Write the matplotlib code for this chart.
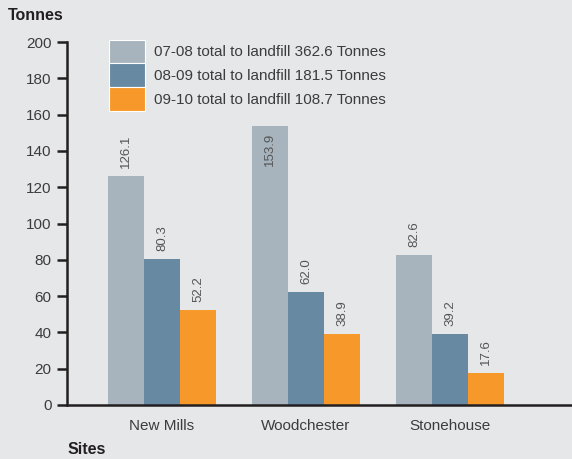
import matplotlib.pyplot as plt
import numpy as np

plt.rcParams['font.family'] = ['Liberation Sans', 'DejaVu Sans']

sites = ["New Mills", "Woodchester", "Stonehouse"]
y0708 = [126.1, 153.9, 82.6]
y0809 = [80.3, 62.0, 39.2]
y0910 = [52.2, 38.9, 17.6]
labels = ["07-08 total to landfill 362.6 Tonnes",
          "08-09 total to landfill 181.5 Tonnes",
          "09-10 total to landfill 108.7 Tonnes"]
colors = ["#a7b4bd", "#6789a1", "#f7992a"]

bg = "#e6e7e9"
dark = "#231f20"
txt = "#3c3c3c"

fig = plt.figure(figsize=(5.72, 4.59), dpi=100, facecolor=bg)
ax = fig.add_axes([67/572, 54/459, 1 - 67/572, 363/459], facecolor=bg)

x = np.arange(len(sites))
w = 0.25
for i, (vals, c, lab) in enumerate(zip([y0708, y0809, y0910], colors, labels)):
    pos = x + (i - 1) * w
    ax.bar(pos, vals, w, color=c, label=lab)
    for p, v in zip(pos, vals):
        if v > 150:
            # tallest bar: label sits inside the top of the bar
            ax.annotate(f"{v:.1f}", (p, v), xytext=(0, -5), textcoords="offset points",
                        rotation=90, ha="center", va="top", fontsize=9.5, color="#555555")
        else:
            ax.annotate(f"{v:.1f}", (p, v), xytext=(0, 6), textcoords="offset points",
                        rotation=90, ha="center", va="bottom", fontsize=9.5, color="#555555")

ax.set_xlim(-0.66, 2.847)
ax.set_ylim(0, 200)
ax.set_yticks(np.arange(0, 201, 20))
ax.set_xticks(x)
ax.set_xticklabels(sites)

for s in ["top", "right"]:
    ax.spines[s].set_visible(False)
for s in ["left", "bottom"]:
    ax.spines[s].set_color(dark)
    ax.spines[s].set_linewidth(1.8)
ax.tick_params(axis="y", length=7, width=1.8, color=dark, labelsize=11, labelcolor=txt, pad=4)
ax.tick_params(axis="x", length=0, labelsize=11, labelcolor=txt, pad=10)

leg = ax.legend(loc="upper left", bbox_to_anchor=(0.083, 1.006), frameon=False,
                handlelength=2.35, handleheight=2.0, labelspacing=0.0,
                handletextpad=0.6, fontsize=11, labelcolor=txt,
                borderpad=0, borderaxespad=0)
for h in leg.legend_handles:
    h.set_edgecolor("white")
    h.set_linewidth(0.8)

fig.text(8/572, 1 - 15/459, "Tonnes", fontsize=11.5, fontweight="bold", color=dark, va="center")
fig.text(68/572, 1 - 450/459, "Sites", fontsize=11.5, fontweight="bold", color=dark, va="center")

fig.savefig("out.png", dpi=100, facecolor=bg)
